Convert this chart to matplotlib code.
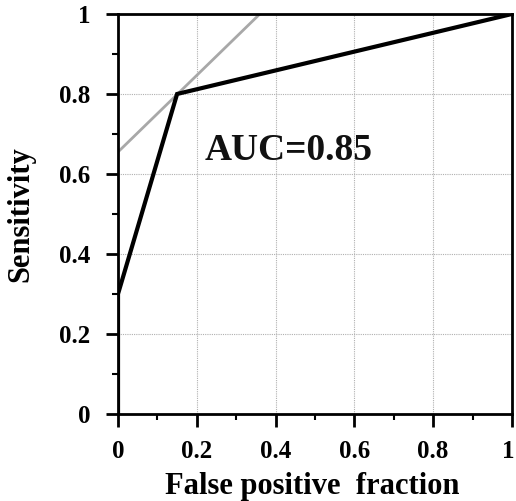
import numpy as np
import matplotlib
matplotlib.use("Agg")
import matplotlib.pyplot as plt
import matplotlib.transforms as mtransforms
from matplotlib.ticker import MultipleLocator

# ROC curve points (false positive fraction, sensitivity)
fpf = [0.0, 0.0, 0.15, 1.0]
sens = [0.0, 0.3, 0.8, 1.0]

# gray tangent line through the cut-off point
tan_x = [0.0, 0.36]
tan_y = [0.655, 1.0]

auc_text = "AUC=0.85"
ticks = [0, 0.2, 0.4, 0.6, 0.8, 1]
tick_labels = ["0", "0.2", "0.4", "0.6", "0.8", "1"]

plt.rcParams["font.family"] = ["Liberation Serif", "DejaVu Serif"]
plt.rcParams["font.weight"] = "bold"

fig = plt.figure(figsize=(5.16, 5.01), dpi=100)
ax = fig.add_axes([0.2287, 0.1737, 0.7635, 0.7984])

ax.grid(True, which="major", color="#b0b0b0", linestyle=(0, (1, 1)), linewidth=0.8)
ax.set_axisbelow(True)

ax.plot(tan_x, tan_y, color="#a8a8a8", linewidth=2.0, solid_capstyle="butt")
ax.plot(fpf, sens, color="black", linewidth=3.0, solid_joinstyle="miter")

ax.text(0.22, 0.635, auc_text, fontsize=27, fontweight="bold", color="#111111")

ax.set_xlim(0, 1)
ax.set_ylim(0, 1)
ax.set_xticks(ticks)
ax.set_xticklabels(tick_labels)
ax.set_yticks(ticks)
ax.set_yticklabels(tick_labels)
ax.xaxis.set_minor_locator(MultipleLocator(0.1))
ax.yaxis.set_minor_locator(MultipleLocator(0.1))

ax.tick_params(which="major", direction="out", length=9, width=2, labelsize=18,
               top=False, right=False)
ax.tick_params(axis="x", which="major", pad=10)
ax.tick_params(axis="y", which="major", pad=11)
ax.tick_params(which="minor", direction="out", length=4, width=1.5, top=False, right=False)
for lab in ax.get_xticklabels() + ax.get_yticklabels():
    lab.set_fontweight("bold")

# keep the last x label inside the picture
last = ax.get_xticklabels()[-1]
last.set_transform(last.get_transform() + mtransforms.ScaledTranslation(-4 / 100, 0, fig.dpi_scale_trans))

for side in ["left", "bottom", "top", "right"]:
    ax.spines[side].set_linewidth(2)
    ax.spines[side].set_color("black")

ax.set_xlabel("False positive  fraction", fontsize=22, fontweight="bold")
ax.xaxis.label.set_va("baseline")
ax.xaxis.set_label_coords(0.494, -0.2)
ax.set_ylabel("Sensitivity", fontsize=22, fontweight="bold", labelpad=17)

fig.savefig("out.png", dpi=100)
